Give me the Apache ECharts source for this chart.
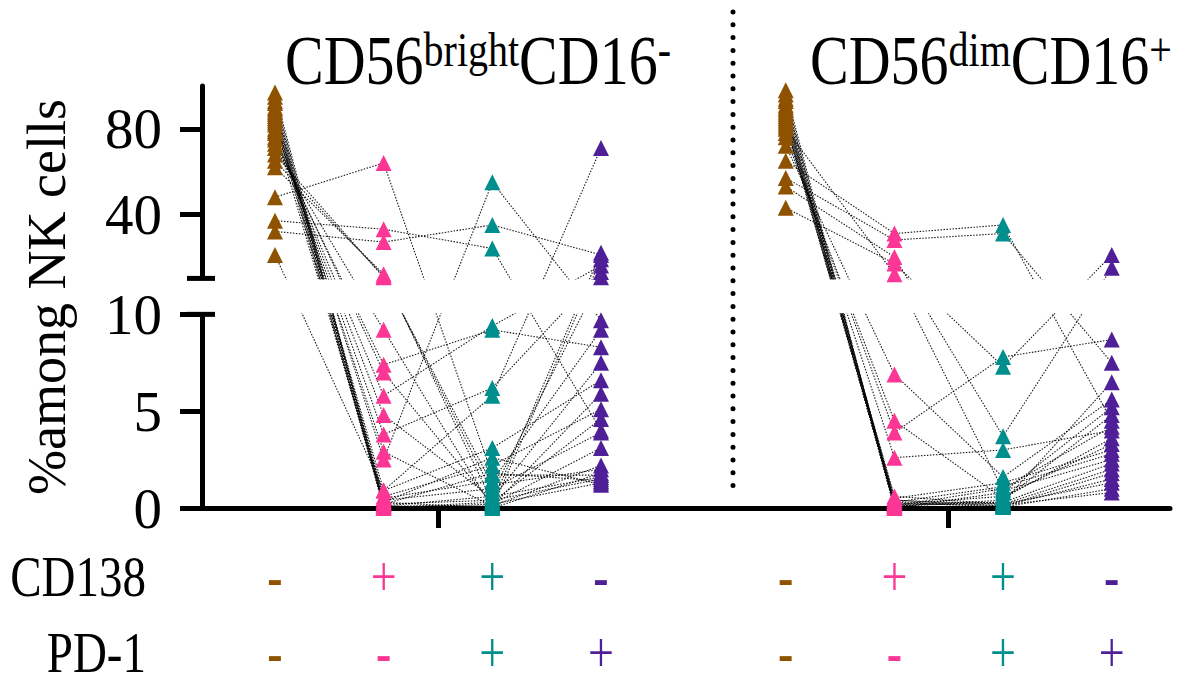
<!DOCTYPE html>
<html>
<head>
<meta charset="utf-8">
<script src="https://cdn.jsdelivr.net/npm/echarts@6/dist/echarts.min.js"></script>
<style>
  html, body { margin: 0; padding: 0; background: #fff; }
  #chart { width: 1182px; height: 687px; }
</style>
</head>
<body>
<div id="chart"></div>
<script>
// % among NK cells, one value per donor; donors keep the same order across the four subsets of a panel.
// CD56bright CD16- NK cells
const brightCD138negPD1neg = [97, 95, 93, 92, 90, 89, 88, 87, 86, 85, 84, 83, 82, 80, 79, 78, 76, 75, 73, 71, 68, 65, 62, 48, 37, 32, 21];
const brightCD138posPD1neg = [0.2, 0.1, 0.4, 0.0, 0.6, 0.3, 0.9, 0.1, 0.5, 0.0, 2.5, 0.2, 2.9, 3.8, 0.3, 4.8, 5.8, 7.0, 7.4, 9.2, 10.5, 11, 12, 64, 33, 27, 0.9];
const brightCD138posPD1pos = [0.4, 0.1, 1.0, 0.2, 2.2, 0.0, 3.1, 0.6, 1.4, 0.3, 55, 1.8, 0.1, 6.2, 2.6, 0.5, 9.4, 0.2, 9.2, 0.0, 1.2, 0.8, 0.3, 1.7, 24, 35, 5.8];
const brightCD138negPD1pos = [1.5, 2.2, 3.9, 1.3, 5.1, 1.8, 6.6, 1.6, 9.2, 4.6, 9.7, 1.4, 5.9, 13, 1.2, 7.5, 16, 3.1, 8.3, 19, 2.0, 10.5, 22, 1.7, 4.0, 21, 71];
// CD56dim CD16+ NK cells
const dimCD138negPD1neg = [98, 96, 94, 93, 91, 90, 89, 88, 87, 86, 85, 84, 83, 82, 81, 80, 78, 76, 72, 65, 57, 53, 43];
const dimCD138posPD1neg = [0.1, 0.0, 0.2, 0.3, 0.1, 0.4, 0.0, 0.2, 0.5, 0.1, 0.6, 0.3, 0.2, 0.4, 2.6, 12, 3.9, 4.5, 6.9, 31, 28, 20, 17];
const dimCD138posPD1pos = [0.3, 0.1, 0.6, 0.05, 1.0, 0.2, 0.8, 0.15, 1.3, 0.4, 0.2, 1.1, 0.3, 0.1, 3.0, 0.9, 7.8, 0.5, 1.6, 35, 31, 3.7, 7.3];
const dimCD138negPD1pos = [2.3, 1.5, 3.3, 1.0, 4.2, 2.0, 5.2, 0.8, 3.0, 4.8, 1.3, 2.8, 6.5, 1.8, 4.0, 2.5, 8.7, 3.6, 5.6, 4.5, 7.5, 15, 21];

// Subset order on the x axis and the marker sign rows under it
const cd138Signs = ['-', '+', '+', '-'];
const pd1Signs = ['-', '-', '+', '+'];
const panelTitles = [
  '{m|CD56}{s|bright}{m|CD16}{s|-}',
  '{m|CD56}{s|dim}{m|CD16}{s|+}'
];
const lowTicks = [0, 5, 10];
const highTicks = [40, 80];
const yMax = 100;

const subsetColors = ['#8f5200', '#fc3694', '#008f8c', '#4e1f97'];
const FONT = 'Liberation Serif, Times New Roman, serif';

// Broken y axis: 0–10 on the lower segment, 10–100 squeezed into the upper one
const LOW_TOP = 10;
const GAP = 1.856;          // blank band between the segments, in lower-segment units
const HIGH_SCALE = 0.1104;  // upper-segment units per lower-segment unit
const toAxis = v => v <= LOW_TOP ? v : LOW_TOP + GAP + (v - LOW_TOP) * HIGH_SCALE;
const fromAxis = t => t <= LOW_TOP ? t : LOW_TOP + (t - LOW_TOP - GAP) / HIGH_SCALE;

const panels = [
  { offset: 0,   subsets: [brightCD138negPD1neg, brightCD138posPD1neg, brightCD138posPD1pos, brightCD138negPD1pos] },
  { offset: 4.7, subsets: [dimCD138negPD1neg, dimCD138posPD1neg, dimCD138posPD1pos, dimCD138negPD1pos] }
];

const series = [];
// one dotted line per donor
panels.forEach(panel => {
  const n = panel.subsets[0].length;
  for (let d = 0; d < n; d++) {
    series.push({
      type: 'line',
      data: panel.subsets.map((vals, k) => [panel.offset + k, toAxis(vals[d])]),
      symbol: 'none',
      lineStyle: { color: '#000', width: 1.1, type: [1.5, 1.5], opacity: 0.9 },
      z: 2, silent: true, animation: false
    });
  }
});
// triangles for every subset
panels.forEach(panel => {
  panel.subsets.forEach((vals, k) => {
    series.push({
      type: 'scatter',
      data: vals.map(v => [panel.offset + k, toAxis(v)]),
      symbol: 'triangle',
      symbolSize: [16, 16],
      itemStyle: { color: subsetColors[k], opacity: 1 },
      z: 10, silent: true, animation: false
    });
  });
});

const yTickValues = lowTicks.concat(highTicks).map(toAxis);

const chart = echarts.init(document.getElementById('chart'), null, { renderer: 'svg' });
chart.setOption({
  animation: false,
  grid: { left: 195, right: 12, top: 86, bottom: 179 },
  xAxis: {
    type: 'value', min: -0.736, max: 8.236,
    axisLine: { show: true, onZero: false, lineStyle: { color: '#000', width: 5 } },
    axisTick: { show: true, customValues: [1.5, 6.2], length: 20, lineStyle: { color: '#000', width: 5 } },
    axisLabel: { show: false },
    splitLine: { show: false }
  },
  yAxis: {
    type: 'value', min: 0, max: toAxis(yMax),
    offset: -7,
    axisLine: { show: true, onZero: false, lineStyle: { color: '#000', width: 5 } },
    axisTick: { show: true, customValues: yTickValues, length: 22, lineStyle: { color: '#000', width: 5 } },
    axisLabel: {
      show: true, customValues: yTickValues, margin: 40,
      formatter: v => String(Math.round(fromAxis(v))),
      fontFamily: FONT, fontSize: 57, color: '#000'
    },
    splitLine: { show: false },
    name: '%among NK cells', nameLocation: 'middle', nameGap: 128, nameRotate: 90,
    nameTextStyle: { fontFamily: FONT, fontSize: 54, color: '#000' }
  },
  series: series
});

// decorations that depend on the laid-out axes
const px = (x, y) => chart.convertToPixel({ xAxisIndex: 0, yAxisIndex: 0 }, [x, y]);
const yGapTopPx = px(0, LOW_TOP + GAP)[1];
const yGapBottomPx = px(0, LOW_TOP)[1];
const axisX = 202;

const graphic = [];
// blank band that breaks the axis and the donor lines
graphic.push({
  type: 'rect', z: 5,
  shape: { x: axisX - 4, y: yGapTopPx + 1, width: 1182 - axisX, height: yGapBottomPx - yGapTopPx - 2 },
  style: { fill: '#fff' }
});
// end caps of the two axis segments
[yGapTopPx, yGapBottomPx].forEach(y => graphic.push({
  type: 'line', z: 6,
  shape: { x1: axisX - 15, y1: y, x2: axisX + 13, y2: y },
  style: { stroke: '#000', lineWidth: 5 }
}));
// dotted divider between the two panels
graphic.push({
  type: 'line', z: 6,
  shape: { x1: 733, y1: 12, x2: 733, y2: 498 },
  style: { stroke: '#000', lineWidth: 5, lineDash: [0, 12.8], lineCap: 'round' }
});
// panel titles
const titleX = [285, 810];
panelTitles.forEach((t, i) => graphic.push({
  type: 'text', z: 6, x: titleX[i], y: 61, scaleY: 1.2,
  style: {
    text: t, fill: '#000', textAlign: 'left', textVerticalAlign: 'middle',
    rich: {
      m: { fontFamily: FONT, fontSize: 58, fill: '#000' },
      s: { fontFamily: FONT, fontSize: 40, fill: '#000', verticalAlign: 'top' }
    }
  }
}));
// marker rows
const rows = [{ label: 'CD138', signs: cd138Signs, y: 577 }, { label: 'PD-1', signs: pd1Signs, y: 653 }];
rows.forEach(row => {
  graphic.push({
    type: 'text', z: 6, x: 146, y: row.y, scaleY: 1.2,
    style: { text: row.label, fill: '#000', font: '47px ' + FONT, textAlign: 'right', textVerticalAlign: 'middle' }
  });
  panels.forEach(panel => {
    row.signs.forEach((s, k) => {
      const cx = px(panel.offset + k, 0)[0];
      graphic.push({
        type: 'text', z: 6, x: cx, y: row.y, scaleY: 1.25,
        style: {
          text: s, fill: subsetColors[k],
          font: (s === '-' ? 'bold ' : '') + '46px ' + FONT,
          textAlign: 'center', textVerticalAlign: 'middle'
        }
      });
    });
  });
});
chart.setOption({ graphic: graphic });
</script>
</body>
</html>
